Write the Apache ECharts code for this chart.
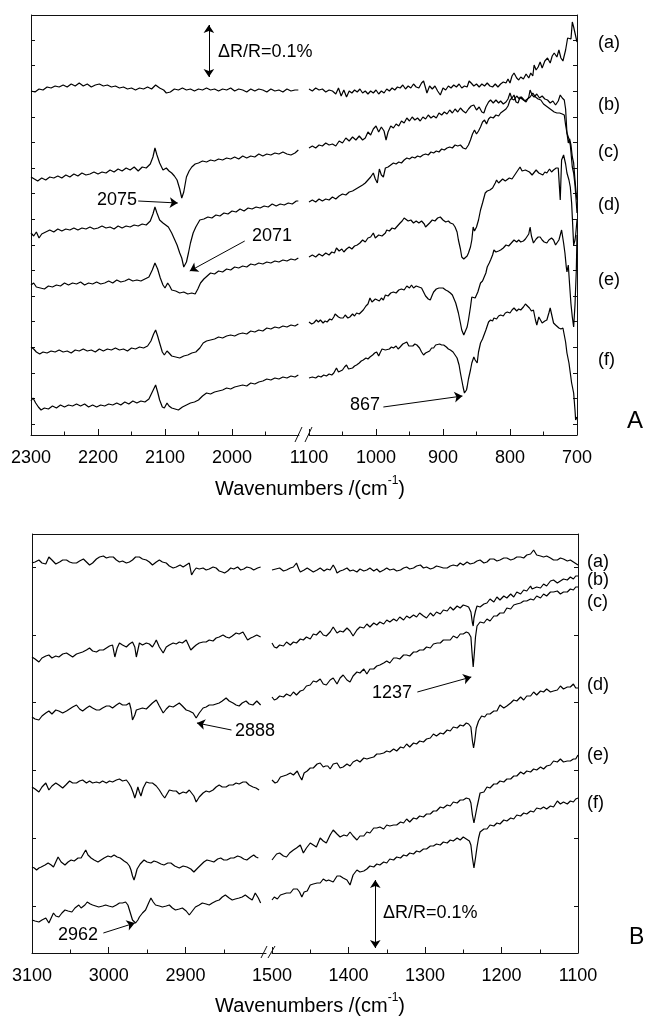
<!DOCTYPE html>
<html><head><meta charset="utf-8">
<script src="https://cdn.jsdelivr.net/npm/echarts@6/dist/echarts.min.js"></script>
<style>html,body{margin:0;padding:0;background:#fff}#c{width:648px;height:1021px}</style>
</head><body><div id="c"></div>
<script>
// ---- Data: [wavenumber (cm-1), offset signal (a.u.; top panel 52 a.u. = dR/R 0.1%, bottom 68 a.u. = 0.1%)] ----
const topLeftA = [[2300,344],[2294,343],[2288,346],[2282,345],[2276,348],[2270,347],[2264,349],[2258,348],[2252,350],[2246,348],[2240,351],[2234,349],[2228,352],[2222,349],[2216,351],[2210,348],[2204,350],[2198,351],[2192,349],[2186,350],[2180,348],[2174,349],[2168,347],[2162,348],[2156,346],[2150,347],[2144,345],[2138,347],[2132,346],[2126,348],[2120,346],[2114,350],[2108,347],[2102,345],[2098,342],[2092,343],[2086,346],[2080,345],[2074,347],[2068,345],[2062,346],[2056,344],[2050,346],[2044,345],[2038,347],[2032,345],[2026,346],[2020,344],[2014,346],[2008,345],[2002,347],[1996,344],[1990,346],[1984,345],[1978,343],[1972,346],[1966,344],[1960,346],[1954,345],[1948,343],[1942,346],[1936,344],[1930,345],[1924,343],[1918,346],[1912,344],[1906,345],[1901,345]];
const topLeftB = [[2300,258],[2295,256],[2290,254],[2284,257],[2278,255],[2272,258],[2266,257],[2260,259],[2254,257],[2248,260],[2242,258],[2236,261],[2230,259],[2224,262],[2218,260],[2212,261],[2206,263],[2200,261],[2194,263],[2188,262],[2182,265],[2176,263],[2170,266],[2164,264],[2158,267],[2152,265],[2146,268],[2140,264],[2134,268],[2128,267],[2122,271],[2118,278],[2115,287],[2112,280],[2108,272],[2103,265],[2098,267],[2094,264],[2090,262],[2086,259],[2082,255],[2078,246],[2075,237],[2072,243],[2068,258],[2064,264],[2060,268],[2055,271],[2050,272],[2044,274],[2038,273],[2032,275],[2026,274],[2020,276],[2014,275],[2008,277],[2002,276],[1996,278],[1990,276],[1984,279],[1978,277],[1972,279],[1966,278],[1960,281],[1954,279],[1948,281],[1942,280],[1936,282],[1930,281],[1924,283],[1918,281],[1912,280],[1906,282],[1901,285]];
const topLeftC = [[2300,202],[2296,199],[2292,203],[2288,197],[2284,201],[2278,203],[2272,205],[2266,203],[2260,206],[2254,204],[2248,206],[2242,205],[2236,207],[2230,205],[2224,207],[2218,206],[2212,208],[2206,206],[2200,207],[2194,209],[2188,207],[2182,208],[2176,206],[2170,209],[2164,207],[2158,209],[2152,208],[2146,210],[2140,209],[2134,211],[2128,210],[2122,214],[2118,221],[2115,228],[2112,222],[2108,215],[2103,212],[2099,210],[2095,208],[2090,202],[2086,196],[2082,190],[2078,182],[2075,177],[2072,168],[2071,166],[2068,173],[2065,182],[2062,192],[2058,202],[2054,208],[2048,215],[2042,216],[2036,218],[2030,217],[2024,220],[2018,219],[2012,222],[2006,221],[2000,224],[1994,223],[1988,226],[1982,224],[1976,227],[1970,226],[1964,228],[1958,227],[1952,229],[1946,228],[1940,231],[1934,229],[1928,231],[1922,230],[1916,232],[1910,231],[1904,234],[1901,234]];
const topLeftD = [[2300,150],[2296,152],[2292,148],[2286,147],[2280,146],[2274,149],[2268,148],[2262,150],[2256,149],[2250,152],[2244,150],[2238,152],[2232,151],[2226,153],[2220,150],[2214,152],[2208,151],[2202,153],[2196,151],[2190,152],[2184,154],[2178,152],[2172,155],[2166,153],[2160,154],[2154,156],[2148,154],[2142,155],[2136,154],[2130,156],[2124,158],[2119,165],[2115,172],[2111,166],[2107,157],[2103,150],[2100,147],[2096,152],[2093,149],[2090,145],[2084,144],[2078,142],[2072,143],[2066,141],[2060,142],[2055,141],[2051,146],[2047,152],[2042,156],[2037,159],[2032,162],[2026,161],[2020,164],[2014,163],[2008,166],[2002,165],[1996,168],[1990,167],[1984,169],[1978,168],[1972,171],[1966,170],[1960,172],[1954,171],[1948,173],[1942,172],[1936,174],[1930,173],[1924,175],[1918,174],[1912,176],[1906,175],[1901,177]];
const topLeftE = [[2300,88],[2296,86],[2292,83],[2287,81],[2282,83],[2276,82],[2270,84],[2264,83],[2258,85],[2252,83],[2246,84],[2240,82],[2234,85],[2228,84],[2222,86],[2216,84],[2210,85],[2204,83],[2198,86],[2192,84],[2186,86],[2180,85],[2174,87],[2168,85],[2162,86],[2156,84],[2150,87],[2144,86],[2138,88],[2132,87],[2126,89],[2121,94],[2117,101],[2114,105],[2111,99],[2108,92],[2104,83],[2101,80],[2097,84],[2094,82],[2090,79],[2084,78],[2078,77],[2072,79],[2066,80],[2060,82],[2054,83],[2048,87],[2043,92],[2038,94],[2032,95],[2026,96],[2020,98],[2014,97],[2008,99],[2002,100],[1996,99],[1990,101],[1984,102],[1978,101],[1972,104],[1966,103],[1960,105],[1954,104],[1948,107],[1942,106],[1936,108],[1930,107],[1924,109],[1918,108],[1912,110],[1906,109],[1901,111]];
const topLeftF = [[2300,34],[2297,37],[2293,32],[2289,28],[2285,25],[2280,27],[2274,26],[2268,29],[2262,27],[2256,30],[2250,28],[2244,30],[2238,29],[2232,31],[2226,29],[2220,31],[2214,28],[2208,30],[2202,28],[2196,30],[2190,29],[2184,31],[2178,30],[2172,32],[2166,30],[2160,33],[2154,31],[2148,34],[2142,32],[2136,34],[2130,33],[2124,36],[2119,43],[2114,50],[2111,43],[2108,35],[2104,28],[2101,27],[2097,32],[2094,29],[2090,27],[2085,26],[2080,25],[2074,28],[2068,30],[2062,32],[2056,33],[2050,35],[2044,39],[2038,42],[2032,41],[2026,43],[2020,44],[2014,45],[2008,47],[2002,46],[1996,48],[1990,49],[1984,50],[1978,49],[1972,52],[1966,51],[1960,53],[1954,54],[1948,56],[1942,55],[1936,57],[1930,56],[1924,58],[1918,57],[1912,59],[1906,58],[1901,60]];

const topRightA = [[1100,346],[1095,344],[1090,347],[1085,345],[1080,346],[1075,343],[1070,345],[1065,344],[1060,341],[1056,347],[1052,339],[1048,345],[1044,338],[1040,344],[1036,342],[1032,345],[1028,343],[1024,346],[1020,342],[1016,344],[1012,341],[1008,344],[1004,342],[1000,345],[996,341],[992,344],[988,342],[984,346],[980,344],[976,347],[972,345],[968,348],[964,347],[960,350],[956,346],[952,349],[948,347],[944,351],[940,348],[936,347],[932,352],[929,354],[926,347],[924,342],[920,349],[916,346],[912,349],[908,344],[904,340],[900,347],[896,345],[892,349],[888,347],[884,350],[880,348],[876,351],[872,347],[868,349],[864,348],[861,354],[858,352],[854,349],[850,351],[846,348],[842,351],[838,349],[834,352],[830,349],[826,348],[822,351],[818,348],[814,351],[810,353],[806,352],[803,356],[800,352],[797,359],[794,362],[790,357],[787,355],[784,358],[780,356],[776,361],[772,357],[769,362],[766,359],[764,370],[761,365],[758,368],[755,373],[752,367],[748,374],[744,377],[740,372],[737,379],[734,382],[730,378],[727,385],[724,377],[721,374],[719,373],[717,385],[714,397],[712,398],[709,396],[707,413],[705,408],[703,402],[701,396],[700,393]];
const topRightB = [[1100,287],[1095,289],[1090,287],[1085,290],[1080,289],[1075,292],[1070,290],[1065,291],[1060,289],[1055,294],[1050,292],[1045,297],[1040,294],[1035,298],[1030,295],[1025,299],[1020,295],[1016,297],[1012,303],[1008,300],[1004,306],[1000,309],[996,303],[992,308],[988,304],[985,295],[982,303],[978,309],[974,307],[970,311],[966,309],[962,314],[958,312],[954,317],[950,314],[946,318],[942,315],[938,317],[934,314],[930,318],[926,316],[922,320],[918,317],[914,319],[910,317],[906,322],[902,320],[898,323],[894,321],[890,325],[886,322],[882,326],[878,323],[874,327],[870,324],[866,322],[862,326],[858,329],[854,330],[850,325],[846,328],[842,323],[839,322],[836,328],[832,333],[829,335],[825,332],[821,335],[817,332],[814,334],[810,331],[806,333],[803,336],[800,342],[797,336],[794,335],[790,339],[786,336],[783,338],[779,335],[776,333],[772,338],[770,345],[767,340],[764,338],[760,341],[756,337],[752,339],[748,336],[744,335],[740,332],[736,334],[732,330],[728,334],[725,340],[722,337],[719,335],[717,326],[715,302],[713,292],[711,296],[709,290],[707,278],[705,272],[703,255],[701,240],[700,235]];
const topRightC = [[1100,233],[1095,235],[1090,233],[1085,236],[1080,234],[1075,236],[1070,235],[1065,238],[1060,236],[1055,239],[1050,241],[1045,240],[1040,243],[1035,244],[1030,246],[1025,248],[1020,250],[1016,252],[1012,255],[1008,258],[1004,262],[1001,256],[998,252],[995,266],[992,260],[989,258],[986,267],[982,268],[978,270],[974,272],[970,271],[966,273],[962,272],[958,275],[954,277],[950,276],[946,278],[942,277],[938,279],[934,278],[930,280],[926,281],[922,280],[918,283],[914,282],[910,284],[906,283],[902,286],[898,285],[894,287],[890,288],[886,287],[882,290],[878,289],[874,290],[870,287],[866,286],[862,290],[859,295],[856,301],[853,305],[850,301],[847,304],[844,308],[841,313],[838,315],[835,311],[832,316],[829,318],[825,317],[821,320],[817,319],[814,322],[810,324],[806,326],[803,329],[800,335],[797,337],[794,340],[791,333],[788,332],[785,338],[782,336],[778,334],[774,336],[770,338],[766,342],[762,338],[758,336],[754,335],[750,331],[746,329],[742,327],[738,325],[734,323],[730,322],[726,322],[722,321],[719,320],[717,310],[715,302],[712,296],[710,290],[707,268],[705,262],[703,250],[701,232],[700,222]];
const topRightD = [[1100,178],[1095,180],[1090,178],[1085,181],[1080,179],[1075,182],[1070,180],[1066,183],[1062,182],[1059,187],[1055,184],[1051,186],[1048,183],[1044,186],[1040,188],[1036,186],[1032,189],[1028,190],[1024,192],[1020,195],[1016,193],[1012,197],[1008,198],[1004,202],[1001,197],[999,195],[996,200],[994,202],[991,199],[989,197],[986,202],[984,205],[980,204],[976,207],[972,206],[968,209],[964,212],[961,214],[958,217],[956,219],[952,214],[948,215],[944,212],[940,214],[936,212],[932,214],[928,211],[926,208],[924,206],[920,212],[916,215],[912,214],[908,217],[904,218],[900,215],[896,213],[892,214],[889,212],[885,211],[882,208],[879,203],[877,195],[874,186],[872,178],[869,176],[867,177],[864,179],[862,182],[859,188],[857,195],[855,208],[853,204],[852,202],[850,208],[847,215],[844,225],[841,232],[839,237],[837,242],[834,244],[830,245],[826,247],[822,252],[820,255],[817,252],[815,253],[811,256],[807,254],[805,255],[801,257],[797,256],[795,258],[791,262],[788,265],[785,268],[782,264],[780,262],[777,265],[775,265],[771,263],[767,260],[765,262],[761,265],[757,262],[755,263],[751,260],[748,263],[745,262],[741,266],[738,263],[735,265],[731,267],[728,267],[725,235],[723,275],[720,280],[717,271],[715,262],[712,255],[710,248],[708,232],[705,190],[703,195],[702,200],[700,215]];
const topRightE = [[1100,113],[1096,111],[1093,112],[1089,115],[1086,113],[1083,115],[1079,112],[1076,114],[1073,113],[1069,116],[1066,115],[1063,118],[1061,121],[1059,123],[1056,118],[1053,117],[1049,117],[1046,120],[1042,117],[1039,118],[1035,121],[1032,119],[1029,122],[1025,121],[1022,123],[1019,125],[1015,129],[1012,131],[1009,137],[1006,133],[1004,132],[1001,136],[999,138],[995,134],[992,137],[989,135],[986,140],[982,139],[978,142],[974,143],[970,142],[966,145],[962,146],[958,145],[954,149],[950,147],[947,150],[944,147],[940,149],[936,148],[932,147],[929,143],[926,139],[922,136],[919,135],[916,140],[914,143],[910,146],[906,147],[904,148],[900,147],[896,145],[893,144],[889,142],[886,140],[884,138],[881,132],[877,122],[874,112],[872,105],[869,100],[867,102],[864,108],[862,115],[859,128],[857,138],[855,137],[852,137],[848,143],[844,152],[841,154],[839,155],[836,162],[834,168],[831,172],[829,175],[826,180],[824,185],[821,183],[819,182],[817,184],[814,185],[810,187],[806,190],[802,189],[798,192],[794,195],[790,193],[787,195],[784,193],[780,194],[777,196],[775,195],[772,201],[770,208],[768,199],[765,192],[761,196],[758,198],[755,198],[752,195],[749,193],[745,192],[742,195],[738,197],[735,195],[732,190],[730,188],[727,195],[725,200],[723,205],[720,192],[718,182],[716,168],[715,163],[713,170],[711,150],[709,131],[707,118],[705,108],[703,130],[701,165],[700,200]];
const topRightF = [[1100,57],[1095,58],[1090,57],[1086,59],[1082,58],[1078,60],[1074,59],[1070,61],[1066,60],[1063,62],[1059,67],[1056,63],[1054,62],[1050,65],[1047,68],[1044,70],[1041,66],[1039,65],[1035,67],[1032,69],[1029,70],[1025,72],[1022,74],[1019,75],[1015,77],[1012,76],[1009,78],[1005,80],[1002,82],[999,83],[996,79],[994,82],[991,86],[989,88],[986,85],[984,83],[980,86],[977,88],[974,87],[970,89],[967,86],[964,88],[960,91],[957,92],[954,93],[951,89],[949,87],[945,89],[942,91],[939,90],[935,87],[932,83],[929,80],[926,82],[924,82],[920,84],[917,87],[914,87],[911,90],[909,92],[905,91],[902,90],[899,90],[895,88],[892,86],[889,85],[885,83],[882,80],[879,77],[876,70],[874,62],[872,55],[870,48],[868,42],[867,40],[865,45],[864,48],[862,56],[859,65],[857,72],[854,78],[852,75],[849,72],[847,83],[844,92],[841,96],[839,98],[836,105],[832,113],[829,115],[826,114],[824,117],[820,116],[817,119],[814,120],[810,119],[807,122],[804,123],[800,122],[797,125],[794,127],[790,124],[787,126],[784,125],[780,128],[777,131],[775,133],[771,127],[768,124],[765,125],[762,115],[760,110],[757,118],[755,117],[752,112],[748,114],[745,115],[742,122],[740,127],[737,118],[735,112],[732,110],[730,108],[727,107],[724,106],[721,107],[720,105],[717,93],[715,82],[712,72],[710,62],[708,52],[705,42],[703,25],[702,15],[701,17],[700,18]];

const botLeftA = [[3100,390],[3096,391],[3091,393],[3087,390],[3082,389],[3078,396],[3074,393],[3069,389],[3064,391],[3060,393],[3055,393],[3051,391],[3047,390],[3042,390],[3038,392],[3033,394],[3029,391],[3025,388],[3021,390],[3016,394],[3012,396],[3007,397],[3003,395],[2999,396],[2994,396],[2990,393],[2986,391],[2982,392],[2977,390],[2973,391],[2969,393],[2965,396],[2960,396],[2956,394],[2951,393],[2947,391],[2943,388],[2938,391],[2934,393],[2930,391],[2925,390],[2921,387],[2916,385],[2912,386],[2907,388],[2903,386],[2899,388],[2895,390],[2892,378],[2889,382],[2886,385],[2882,384],[2877,385],[2873,383],[2869,384],[2864,386],[2860,385],[2856,382],[2852,381],[2849,380],[2845,382],[2841,385],[2837,384],[2832,386],[2828,383],[2824,384],[2820,386],[2815,385],[2811,383],[2806,385],[2802,386]];
const botLeftB = [[3100,296],[3096,294],[3091,291],[3087,295],[3082,297],[3078,298],[3074,295],[3069,297],[3065,296],[3060,299],[3055,300],[3051,298],[3047,296],[3042,299],[3038,300],[3034,301],[3029,303],[3025,305],[3021,302],[3016,301],[3012,303],[3007,303],[3003,305],[2999,307],[2995,308],[2992,296],[2989,305],[2986,310],[2982,308],[2977,306],[2973,309],[2969,311],[2966,306],[2964,296],[2962,303],[2960,310],[2956,308],[2951,310],[2947,309],[2943,306],[2940,310],[2938,313],[2934,306],[2929,300],[2925,306],[2921,308],[2916,310],[2912,309],[2908,311],[2904,310],[2899,313],[2896,308],[2893,303],[2889,306],[2886,308],[2882,310],[2877,311],[2873,311],[2869,313],[2864,312],[2860,315],[2856,316],[2851,318],[2847,316],[2843,315],[2839,317],[2834,320],[2830,319],[2825,321],[2822,317],[2819,313],[2815,315],[2812,316],[2807,318],[2802,316]];
const botLeftC = [[3100,236],[3096,234],[3091,233],[3087,237],[3082,240],[3078,242],[3074,239],[3069,243],[3065,242],[3060,240],[3055,242],[3051,244],[3047,246],[3042,248],[3038,244],[3034,242],[3029,245],[3025,247],[3021,245],[3016,243],[3012,243],[3008,245],[3003,247],[2999,247],[2995,245],[2990,248],[2986,250],[2982,248],[2977,248],[2973,250],[2971,244],[2969,233],[2966,238],[2964,243],[2960,244],[2956,245],[2951,244],[2947,247],[2943,250],[2938,253],[2934,247],[2929,240],[2925,244],[2921,247],[2916,246],[2912,248],[2908,250],[2904,247],[2899,243],[2895,242],[2890,240],[2886,235],[2882,240],[2877,245],[2873,246],[2869,248],[2864,248],[2860,249],[2856,250],[2852,252],[2847,255],[2843,252],[2838,250],[2834,248],[2830,247],[2826,250],[2821,252],[2817,249],[2812,248],[2807,252],[2802,248]];
const botLeftD = [[3100,166],[3096,164],[3091,161],[3087,166],[3082,170],[3078,163],[3074,167],[3069,170],[3065,168],[3060,165],[3056,168],[3051,172],[3047,170],[3042,170],[3038,172],[3034,173],[3029,170],[3025,172],[3021,170],[3016,171],[3012,170],[3008,172],[3003,170],[2999,172],[2995,171],[2990,173],[2986,174],[2982,172],[2977,173],[2974,170],[2971,166],[2968,160],[2966,155],[2964,160],[2962,166],[2960,161],[2958,157],[2955,165],[2951,171],[2947,170],[2943,170],[2938,167],[2934,163],[2930,158],[2927,155],[2924,159],[2921,163],[2916,162],[2912,162],[2908,159],[2903,161],[2899,160],[2895,163],[2893,163],[2889,157],[2886,151],[2882,156],[2877,160],[2873,162],[2869,161],[2864,163],[2860,166],[2856,168],[2852,166],[2847,166],[2843,168],[2838,168],[2834,170],[2830,169],[2825,171],[2821,171],[2817,168],[2812,166],[2808,165],[2804,163]];
const botLeftE = [[3100,86],[3097,85],[3094,83],[3091,85],[3088,86],[3083,88],[3079,90],[3075,88],[3072,86],[3069,91],[3066,96],[3062,91],[3057,88],[3053,91],[3049,93],[3045,92],[3040,95],[3036,95],[3033,99],[3030,103],[3027,98],[3023,95],[3019,93],[3014,91],[3010,93],[3006,95],[3001,97],[2997,96],[2993,98],[2989,96],[2985,95],[2980,92],[2976,90],[2973,87],[2971,83],[2969,77],[2967,73],[2965,78],[2963,84],[2959,89],[2954,93],[2950,91],[2945,90],[2941,92],[2937,91],[2932,89],[2928,88],[2923,90],[2919,90],[2914,87],[2908,85],[2903,87],[2898,86],[2893,84],[2889,81],[2884,85],[2880,88],[2876,91],[2872,93],[2867,92],[2863,91],[2858,94],[2854,95],[2850,93],[2846,93],[2841,95],[2837,95],[2832,97],[2828,96],[2824,94],[2820,93],[2815,96],[2811,98],[2808,96],[2805,95]];
const botLeftF = [[3100,33],[3096,32],[3091,31],[3087,33],[3082,35],[3078,30],[3075,35],[3072,40],[3069,37],[3065,36],[3061,40],[3057,43],[3053,42],[3048,41],[3044,45],[3039,48],[3036,45],[3034,43],[3031,48],[3028,51],[3024,49],[3021,48],[3017,47],[3013,46],[3008,47],[3004,48],[3000,47],[2995,46],[2990,48],[2986,50],[2982,50],[2978,51],[2975,48],[2973,43],[2971,38],[2969,33],[2967,31],[2965,30],[2962,33],[2960,36],[2956,40],[2952,43],[2948,50],[2945,55],[2942,51],[2939,48],[2934,47],[2930,46],[2925,47],[2921,48],[2917,45],[2913,43],[2908,44],[2904,45],[2899,42],[2895,38],[2891,42],[2887,46],[2882,48],[2878,50],[2873,49],[2869,48],[2865,50],[2860,52],[2856,53],[2852,56],[2848,58],[2843,55],[2839,53],[2835,54],[2830,55],[2826,56],[2822,58],[2817,55],[2813,53],[2809,60],[2805,55],[2802,50]];

const botRightA = [[1500,383],[1495,384],[1490,385],[1485,382],[1481,383],[1476,385],[1472,386],[1468,390],[1465,384],[1463,381],[1458,383],[1454,385],[1450,383],[1446,381],[1441,383],[1437,385],[1432,382],[1428,384],[1424,383],[1420,388],[1417,384],[1415,380],[1411,382],[1407,383],[1402,385],[1398,382],[1394,383],[1389,381],[1385,384],[1380,382],[1376,383],[1372,385],[1367,382],[1363,384],[1359,381],[1354,383],[1350,385],[1346,383],[1341,384],[1337,382],[1332,383],[1328,385],[1324,386],[1320,384],[1315,385],[1311,387],[1306,388],[1302,385],[1298,386],[1293,384],[1289,385],[1285,387],[1280,386],[1276,385],[1271,385],[1267,387],[1263,388],[1258,387],[1254,390],[1250,388],[1245,391],[1241,389],[1236,390],[1232,392],[1228,393],[1223,390],[1219,391],[1215,394],[1210,394],[1206,392],[1202,393],[1197,395],[1193,395],[1188,393],[1184,394],[1180,396],[1175,396],[1171,395],[1167,398],[1162,399],[1158,403],[1156,401],[1154,398],[1149,397],[1145,396],[1141,397],[1136,395],[1132,393],[1127,393],[1123,395],[1119,394],[1114,392],[1110,393],[1106,391],[1104,390],[1100,388]];
const botRightB = [[1500,310],[1497,306],[1494,305],[1490,308],[1485,307],[1481,311],[1476,308],[1472,311],[1468,310],[1463,314],[1459,313],[1455,316],[1450,314],[1446,319],[1442,318],[1437,322],[1433,318],[1429,317],[1424,321],[1420,326],[1415,320],[1411,322],[1407,321],[1402,325],[1398,322],[1394,317],[1389,323],[1385,326],[1380,325],[1376,329],[1372,326],[1367,330],[1363,328],[1359,331],[1354,329],[1350,333],[1346,331],[1341,334],[1337,332],[1333,336],[1328,333],[1324,337],[1320,335],[1315,338],[1311,336],[1307,340],[1302,337],[1298,335],[1293,340],[1289,337],[1285,341],[1280,339],[1276,343],[1271,342],[1267,346],[1263,343],[1258,347],[1254,345],[1250,348],[1246,347],[1243,346],[1240,341],[1238,330],[1237,327],[1236,335],[1234,342],[1232,347],[1228,346],[1223,349],[1219,350],[1215,354],[1210,351],[1206,356],[1202,353],[1197,357],[1193,355],[1188,359],[1184,356],[1180,361],[1175,359],[1171,363],[1167,362],[1162,367],[1160,364],[1158,362],[1154,366],[1149,365],[1145,369],[1141,367],[1136,372],[1132,373],[1127,370],[1123,372],[1119,374],[1114,373],[1110,376],[1106,374],[1103,377],[1100,377]];
const botRightC = [[1500,256],[1497,253],[1494,254],[1490,257],[1485,256],[1481,259],[1476,257],[1472,261],[1468,258],[1463,262],[1459,263],[1455,267],[1450,268],[1446,272],[1442,271],[1437,274],[1433,269],[1429,268],[1424,273],[1420,275],[1415,269],[1411,275],[1407,278],[1402,273],[1398,271],[1394,277],[1389,281],[1385,280],[1380,284],[1376,279],[1372,284],[1367,284],[1363,287],[1359,288],[1354,290],[1350,292],[1346,290],[1341,295],[1337,295],[1333,294],[1328,298],[1324,298],[1320,297],[1315,301],[1311,301],[1307,303],[1302,303],[1298,306],[1293,305],[1289,309],[1284,310],[1280,310],[1276,313],[1271,313],[1267,313],[1263,317],[1258,315],[1254,319],[1250,319],[1246,321],[1243,320],[1240,316],[1238.5,300],[1237,286],[1235.5,300],[1234,316],[1232,327],[1228,331],[1223,330],[1219,334],[1215,332],[1210,337],[1206,337],[1202,340],[1197,340],[1193,345],[1188,344],[1184,348],[1180,349],[1175,350],[1171,352],[1167,352],[1162,354],[1158,353],[1154,357],[1149,355],[1145,359],[1141,357],[1136,361],[1132,361],[1127,362],[1123,359],[1119,361],[1114,361],[1110,364],[1106,363],[1103,366],[1100,366]];
const botRightD = [[1500,173],[1496,170],[1493,171],[1489,176],[1485,177],[1481,178],[1476,180],[1472,178],[1467,182],[1464,177],[1461,173],[1458,180],[1454,182],[1450,185],[1446,185],[1441,189],[1437,190],[1433,186],[1430,187],[1427,187],[1424,184],[1420,189],[1415,190],[1411,185],[1407,186],[1402,189],[1398,187],[1394,191],[1389,193],[1385,191],[1380,195],[1376,194],[1372,195],[1367,196],[1363,199],[1359,199],[1354,200],[1350,202],[1346,201],[1341,204],[1337,202],[1332,206],[1328,205],[1324,209],[1320,206],[1315,210],[1311,209],[1307,212],[1302,211],[1298,214],[1293,215],[1289,219],[1285,217],[1280,220],[1276,219],[1271,223],[1267,222],[1263,226],[1258,225],[1254,228],[1250,227],[1246,230],[1243,229],[1240,226],[1238,212],[1236.5,205],[1235,212],[1233,225],[1230,232],[1226,237],[1222,236],[1219,239],[1215,239],[1210,242],[1206,242],[1202,248],[1197,245],[1193,247],[1188,250],[1184,253],[1180,252],[1175,256],[1171,253],[1167,257],[1162,257],[1158,261],[1154,258],[1149,262],[1145,261],[1141,264],[1136,261],[1132,262],[1127,263],[1123,267],[1119,264],[1114,266],[1110,266],[1106,269],[1103,265],[1100,265]];
const botRightE = [[1500,93],[1497,96],[1494,99],[1490,100],[1485,97],[1481,96],[1477,100],[1472,103],[1468,105],[1463,108],[1459,100],[1455,105],[1450,110],[1446,108],[1442,106],[1437,115],[1433,112],[1429,110],[1424,118],[1420,123],[1415,119],[1411,116],[1406,118],[1402,117],[1398,121],[1394,117],[1389,113],[1385,117],[1380,117],[1376,121],[1372,120],[1367,125],[1363,125],[1359,126],[1354,124],[1350,128],[1346,127],[1341,128],[1337,128],[1332,131],[1328,130],[1324,134],[1320,131],[1315,135],[1311,134],[1307,137],[1302,136],[1298,139],[1293,139],[1289,142],[1285,142],[1280,146],[1276,145],[1271,148],[1267,147],[1263,151],[1258,150],[1254,153],[1250,153],[1246,155],[1242,154],[1240,150],[1238,138],[1236,130],[1234,138],[1232,146],[1230,153],[1228,160],[1223,161],[1219,166],[1215,165],[1210,169],[1206,169],[1202,172],[1197,171],[1193,174],[1188,174],[1184,177],[1180,177],[1175,181],[1171,179],[1167,182],[1162,181],[1158,184],[1154,183],[1149,186],[1145,184],[1141,187],[1136,188],[1132,192],[1127,191],[1123,194],[1119,191],[1114,192],[1110,192],[1106,194],[1103,194],[1100,198]];
const botRightF = [[1500,53],[1497,56],[1493,54],[1489,58],[1485,59],[1481,60],[1476,60],[1472,64],[1467,64],[1464,61],[1461,56],[1458,61],[1454,62],[1450,68],[1446,69],[1441,70],[1437,70],[1433,74],[1429,72],[1426,73],[1424,75],[1420,71],[1415,77],[1411,77],[1407,75],[1402,73],[1398,68],[1394,78],[1389,83],[1385,81],[1380,82],[1376,84],[1372,87],[1367,86],[1363,89],[1359,88],[1354,91],[1350,90],[1346,94],[1341,93],[1337,96],[1332,95],[1328,98],[1324,97],[1320,100],[1315,99],[1311,102],[1307,101],[1302,104],[1298,104],[1293,107],[1289,107],[1285,109],[1280,108],[1276,111],[1271,110],[1267,113],[1263,112],[1258,115],[1254,113],[1250,116],[1246,114],[1242,112],[1240,108],[1238,95],[1236,85],[1234,95],[1232,106],[1230,115],[1228,121],[1223,124],[1219,124],[1215,128],[1210,127],[1206,130],[1202,129],[1197,133],[1193,132],[1188,135],[1184,134],[1180,138],[1175,137],[1171,140],[1167,139],[1162,142],[1158,141],[1154,145],[1149,144],[1145,146],[1141,144],[1136,147],[1132,146],[1127,152],[1123,149],[1119,151],[1114,149],[1110,152],[1106,151],[1103,154],[1100,155]];

// ---- Axis ticks ----
const topLeftMajor = [2300, 2200, 2100, 2000];
const topLeftMinor = [2250, 2150, 2050, 1950];
const topRightMajor = [1100, 1000, 900, 800, 700];
const topRightMinor = [1050, 950, 850, 750];
const botLeftMajor = [3100, 3000, 2900];
const botLeftMinor = [3050, 2950, 2850];
const botRightMajor = [1500, 1400, 1300, 1200, 1100];
const botRightMinor = [1450, 1350, 1250, 1150];
const yTicksTop = [11, 36.6, 62.2, 87.8, 113.4, 139, 164.6, 190.2, 215.8, 241.4, 267, 292.6, 318.2, 343.8, 369.4, 395];
const yTicksBot = [47, 114.8, 182.6, 250.4, 318.2, 386];
const curveLabels = ['(a)', '(b)', '(c)', '(d)', '(e)', '(f)'];

const FONT = 'Liberation Sans, Arial, Helvetica, sans-serif';
const AX = '#111';

const grids = [
  {left: 31, top: 15, width: 268, height: 420},
  {left: 309, top: 15, width: 268, height: 420},
  {left: 32, top: 534, width: 234, height: 419},
  {left: 272, top: 534, width: 306, height: 419}
];
const xRanges = [[1900, 2300], [700, 1100], [2795, 3100], [1100, 1500]];
const majors = [topLeftMajor, topRightMajor, botLeftMajor, botRightMajor];
const minors = [topLeftMinor, topRightMinor, botLeftMinor, botRightMinor];

const xAxis = [];
grids.forEach((g, i) => {
  xAxis.push({
    gridIndex: i, type: 'value', min: xRanges[i][0], max: xRanges[i][1], inverse: true, position: 'bottom',
    axisLine: {show: true, onZero: false, lineStyle: {color: AX, width: 1}},
    axisTick: {show: true, inside: true, length: 6, customValues: majors[i], lineStyle: {color: AX, width: 1}},
    axisLabel: {show: true, customValues: majors[i], margin: 14, fontSize: 18, color: '#000', fontFamily: FONT,
                formatter: function (v) { return String(v); }},
    splitLine: {show: false}
  });
  xAxis.push({
    gridIndex: i, type: 'value', min: xRanges[i][0], max: xRanges[i][1], inverse: true, position: 'bottom',
    axisLine: {show: false},
    axisTick: {show: true, inside: true, length: 3.5, customValues: minors[i], lineStyle: {color: AX, width: 1}},
    axisLabel: {show: false}, splitLine: {show: false}
  });
});
const yAxis = grids.map((g, i) => ({
  gridIndex: i, type: 'value', min: 0, max: i < 2 ? 420 : 419,
  position: (i % 2 === 0) ? 'left' : 'right',
  axisLine: {show: true, onZero: false, lineStyle: {color: AX, width: 1}},
  axisTick: {show: true, inside: true, length: 4, customValues: i < 2 ? yTicksTop : yTicksBot, lineStyle: {color: AX, width: 1}},
  axisLabel: {show: false}, splitLine: {show: false}
}));

const arrowStyle = {color: '#000', width: 1, type: 'solid'};
function mk(data, gi, markLineData) {
  const s = {
    type: 'line', xAxisIndex: gi * 2, yAxisIndex: gi, data: data, symbol: 'none', showSymbol: false,
    lineStyle: {color: '#000', width: 1.2}, silent: true, animation: false, clip: false
  };
  if (markLineData) {
    s.markLine = {silent: true, animation: false, symbolSize: 8, lineStyle: arrowStyle, label: {show: false}, data: markLineData};
  }
  return s;
}
const series = [
  mk(topLeftA, 0, [
    [{coord: [2034.5, 410], symbol: 'arrow'}, {coord: [2034.5, 358], symbol: 'arrow'}],
    [{coord: [2140, 234], symbol: 'none'}, {coord: [2081, 232], symbol: 'arrow'}],
    [{coord: [1981, 194], symbol: 'none'}, {coord: [2063, 164], symbol: 'arrow'}]
  ]),
  mk(topLeftB, 0), mk(topLeftC, 0), mk(topLeftD, 0), mk(topLeftE, 0), mk(topLeftF, 0),
  mk(topRightA, 1, [
    [{coord: [989, 28], symbol: 'none'}, {coord: [871, 39], symbol: 'arrow'}]
  ]),
  mk(topRightB, 1), mk(topRightC, 1), mk(topRightD, 1), mk(topRightE, 1), mk(topRightF, 1),
  mk(botLeftA, 2, [
    [{coord: [2840, 223], symbol: 'none'}, {coord: [2885, 230], symbol: 'arrow'}],
    [{coord: [3007, 20], symbol: 'none'}, {coord: [2966, 30], symbol: 'arrow'}]
  ]),
  mk(botLeftB, 2), mk(botLeftC, 2), mk(botLeftD, 2), mk(botLeftE, 2), mk(botLeftF, 2),
  mk(botRightA, 3, [
    [{coord: [1365, 73], symbol: 'arrow'}, {coord: [1365, 5], symbol: 'arrow'}],
    [{coord: [1310, 261], symbol: 'none'}, {coord: [1239.5, 276], symbol: 'arrow'}]
  ]),
  mk(botRightB, 3), mk(botRightC, 3), mk(botRightD, 3), mk(botRightE, 3), mk(botRightF, 3)
];

function txt(x, y, text, size, align, extra) {
  return Object.assign({type: 'text', x: x, y: y, silent: true,
    style: {text: text, fontSize: size || 18, fontFamily: FONT, fill: '#000', align: align || 'left', verticalAlign: 'middle'}}, extra || {});
}
function ln(x1, y1, x2, y2) {
  return {type: 'line', silent: true, shape: {x1: x1, y1: y1, x2: x2, y2: y2}, style: {stroke: AX, lineWidth: 1}};
}
const topLabelY = [43, 105, 152, 205, 280, 360];
const botLabelY = [562, 580, 602, 685, 755, 803];
const graphic = [
  ln(31, 15.5, 577, 15.5), ln(32, 534.5, 578, 534.5),
  ln(295, 442, 302, 427), ln(305, 442, 312, 427),
  ln(261, 958, 267, 946), ln(268, 958, 275, 946),
  txt(218, 52, 'ΔR/R=0.1%', 18),
  txt(137, 200, '2075', 18, 'right'),
  txt(252, 236, '2071', 18),
  txt(380, 405, '867', 18, 'right'),
  txt(235, 731, '2888', 18),
  txt(372, 693, '1237', 18),
  txt(98, 935, '2962', 18, 'right'),
  txt(383, 913, 'ΔR/R=0.1%', 18),
  txt(627, 421, 'A', 24),
  txt(629, 938, 'B', 23)
];
curveLabels.forEach((t, i) => { graphic.push(txt(598, topLabelY[i], t, 18)); graphic.push(txt(587, botLabelY[i], t, 18)); });
function title(y) {
  return {type: 'text', x: 310, y: y, silent: true, style: {
    text: '{m|Wavenumbers /(cm}{s|-1}{m|)}', align: 'center', verticalAlign: 'middle', fill: '#000',
    rich: {m: {fontSize: 20, fontFamily: FONT, fill: '#000', lineHeight: 24, verticalAlign: 'bottom'},
           s: {fontSize: 12, fontFamily: FONT, fill: '#000', lineHeight: 24, verticalAlign: 'top'}}}};
}
graphic.push(title(487), title(1004));

const chart = echarts.init(document.getElementById('c'));
chart.setOption({
  animation: false, backgroundColor: '#fff',
  grid: grids, xAxis: xAxis, yAxis: yAxis, series: series, graphic: graphic
});
</script></body></html>
